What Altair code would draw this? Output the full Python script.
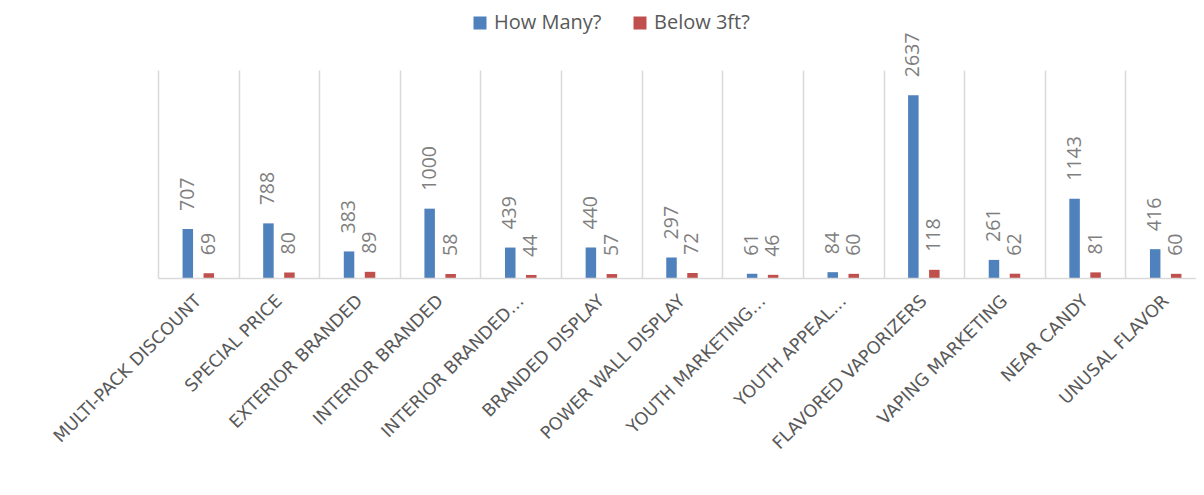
import altair as alt
import pandas as pd

categories = [
    "MULTI-PACK DISCOUNT", "SPECIAL PRICE", "EXTERIOR BRANDED", "INTERIOR BRANDED",
    "INTERIOR BRANDED…", "BRANDED DISPLAY", "POWER WALL DISPLAY", "YOUTH MARKETING…",
    "YOUTH APPEAL…", "FLAVORED VAPORIZERS", "VAPING MARKETING", "NEAR CANDY", "UNUSAL FLAVOR",
]
how_many = [707, 788, 383, 1000, 439, 440, 297, 61, 84, 2637, 261, 1143, 416]
below_3ft = [69, 80, 89, 58, 44, 57, 72, 46, 60, 118, 62, 81, 60]
series_names = ["How Many?", "Below 3ft?"]
series_colors = ["#4F81BD", "#C0504D"]

rows = []
for i, c in enumerate(categories):
    rows.append({"category": c, "series": series_names[0], "value": how_many[i]})
    rows.append({"category": c, "series": series_names[1], "value": below_3ft[i]})
df = pd.DataFrame(rows)

W, H = 1048, 208

x_enc = alt.X(
    "category:N", sort=categories,
    scale=alt.Scale(paddingInner=0, paddingOuter=0),
    axis=alt.Axis(
        title=None, labelAngle=-45, labelAlign="right", labelBaseline="middle",
        labelPadding=20, labelFont="DejaVu Sans", labelFontSize=17.5, labelColor="#595959",
        labelLimit=500, labelOverlap=False, ticks=False, grid=True,
        gridColor="#d9d9d9", gridWidth=1.5, tickBand="extent",
        domainColor="#d9d9d9", domainWidth=1.5, zindex=1,
    ),
)
xoff = alt.XOffset("series:N", sort=series_names,
                   scale=alt.Scale(paddingInner=0, paddingOuter=0.92))
y_enc = alt.Y("value:Q", scale=alt.Scale(domain=[0, 3000]), axis=None)
color = alt.Color(
    "series:N", sort=series_names,
    scale=alt.Scale(domain=series_names, range=series_colors),
    legend=alt.Legend(
        title=None, orient="none", legendX=312, legendY=-57, direction="horizontal",
        symbolType="square", symbolSize=169, symbolStrokeWidth=0,
        labelFont="Open Sans", labelFontSize=20, labelColor="#595959",
        labelOffset=4, columnPadding=28, padding=0,
    ),
)

base = alt.Chart(df)
bars = base.mark_bar(width=10.5).encode(
    x=x_enc, xOffset=xoff, y=y_enc, color=color
)
labels = base.mark_text(
    angle=270, align="left", baseline="middle", dx=18,
    font="Open Sans", fontSize=19.5, color="#7f7f7f",
).encode(x=x_enc, xOffset=xoff, y=y_enc, text="value:Q")

chart = alt.layer(bars, labels).properties(
    width=W, height=H,
    padding={"left": 150, "top": 62, "right": -10, "bottom": 200},
    autosize=alt.AutoSizeParams(type="none"),
    background="white",
).configure_view(stroke=None)

chart.save("out.html", embed_options={"renderer": "svg", "actions": False})
